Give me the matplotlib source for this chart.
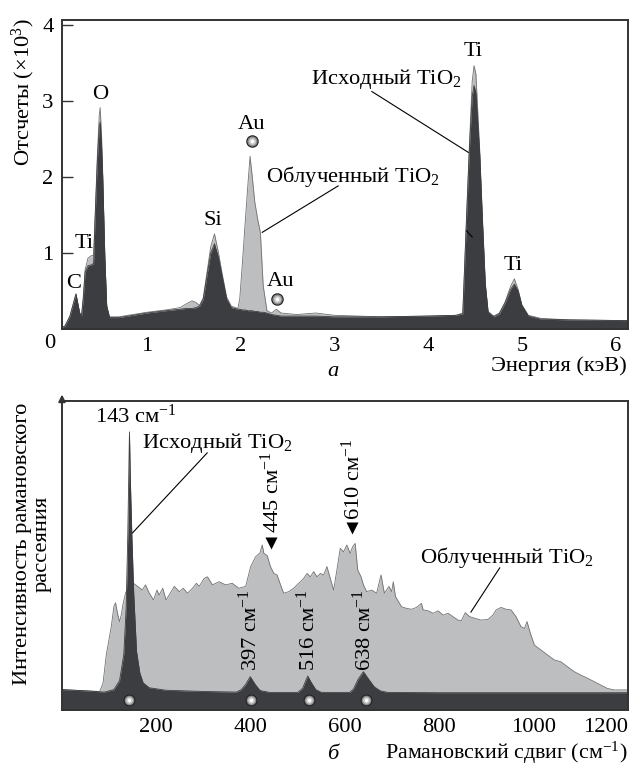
import matplotlib
matplotlib.use("Agg")
import matplotlib.pyplot as plt
import numpy as np

plt.rcParams['font.family'] = ['Liberation Serif', 'DejaVu Serif']
plt.rcParams['mathtext.fontset'] = 'custom'
plt.rcParams['mathtext.rm'] = 'Liberation Serif'
plt.rcParams['mathtext.it'] = 'Liberation Serif:italic'

# ---------------- EDX data (panel a) ----------------
edx_energy = [0.09, 0.125, 0.178, 0.242, 0.28, 0.30, 0.32, 0.34, 0.37, 0.40, 0.43,
              0.445, 0.47, 0.49, 0.50, 0.515, 0.527, 0.55, 0.57, 0.60, 0.70, 0.85,
              1.00, 1.20, 1.35, 1.42, 1.48, 1.52, 1.56, 1.60, 1.64, 1.68, 1.72, 1.76,
              1.80, 1.85, 1.90, 1.97, 1.99, 2.02, 2.05, 2.08, 2.10, 2.125, 2.15, 2.18,
              2.21, 2.24, 2.28, 2.33, 2.38, 2.43, 2.6, 2.8, 3.0, 3.5, 4.0, 4.3, 4.37,
              4.41, 4.44, 4.47, 4.49, 4.51, 4.55, 4.58, 4.61, 4.64, 4.70, 4.76, 4.82,
              4.88, 4.92, 4.96, 5.00, 5.07, 5.2, 5.5, 6.13]
edx_original = [0.02, 0.04, 0.17, 0.46, 0.22, 0.15, 0.40, 0.75, 0.83, 0.84, 0.86,
                1.40, 2.20, 2.65, 2.72, 2.40, 2.00, 0.94, 0.30, 0.15, 0.15, 0.18,
                0.21, 0.24, 0.26, 0.27, 0.27, 0.28, 0.30, 0.39, 0.70, 1.00, 1.12, 0.95,
                0.70, 0.39, 0.28, 0.26, 0.26, 0.25, 0.25, 0.24, 0.24, 0.24, 0.23, 0.23,
                0.22, 0.22, 0.21, 0.19, 0.18, 0.17, 0.17, 0.17, 0.16, 0.16, 0.17, 0.18, 0.20,
                1.45, 2.35, 3.05, 3.20, 3.10, 2.30, 1.40, 0.58, 0.22, 0.16, 0.20, 0.34,
                0.52, 0.59, 0.50, 0.31, 0.17, 0.13, 0.12, 0.11]
edx_irradiated = [0.02, 0.04, 0.17, 0.46, 0.22, 0.16, 0.42, 0.78, 0.93, 0.96, 0.97,
                  1.45, 2.27, 2.80, 2.91, 2.55, 2.06, 0.96, 0.31, 0.16, 0.16, 0.19,
                  0.22, 0.25, 0.28, 0.33, 0.37, 0.35, 0.31, 0.41, 0.74, 1.08, 1.25, 1.02,
                  0.74, 0.42, 0.30, 0.27, 0.40, 0.90, 1.44, 1.95, 2.27, 1.98, 1.67, 1.45,
                  1.27, 0.57, 0.24, 0.21, 0.26, 0.21, 0.19, 0.21, 0.18, 0.16, 0.17, 0.18, 0.21,
                  1.49, 2.40, 3.25, 3.46, 3.35, 2.36, 1.45, 0.61, 0.23, 0.17, 0.21, 0.35,
                  0.56, 0.66, 0.52, 0.32, 0.18, 0.14, 0.12, 0.11]
edx_ticks = [1, 2, 3, 4, 5, 6]
edx_yticks = [1, 2, 3, 4]
au_marker_e = [2.12, 2.39]
au_marker_y = [2.47, 0.39]

# ---------------- Raman data (panel b) ----------------
raman_shift_orig = [0, 50, 90, 110, 122, 131, 136, 139.5, 141.5, 143, 145, 148, 152, 158,
                    165, 172, 185, 220, 300, 370, 380, 389, 399, 410, 420, 440, 500, 510,
                    516, 521, 528, 538, 550, 610, 618, 628, 639, 650, 662, 675, 690, 800,
                    1000, 1200]
raman_orig = [0.066, 0.062, 0.058, 0.066, 0.095, 0.18, 0.33, 0.57, 0.76, 0.90, 0.74, 0.57,
              0.38, 0.19, 0.12, 0.088, 0.072, 0.064, 0.060, 0.058, 0.066, 0.082, 0.108, 0.082,
              0.063, 0.057, 0.057, 0.070, 0.092, 0.110, 0.090, 0.066, 0.057, 0.057, 0.068,
              0.100, 0.124, 0.100, 0.075, 0.062, 0.057, 0.056, 0.056, 0.056]
raman_shift_irr = [0, 80, 87, 94, 104.5, 110, 113.5, 118, 122, 126, 129, 135, 143, 151.5,
                   160.6, 170, 177, 185, 194, 201.4, 206, 213.6, 220.5, 229.6, 238, 248.6,
                   257, 266, 276.7, 285, 290.8, 301.4, 308.4, 319, 333, 347, 361, 375, 389.4,
                   400, 410.5, 419.6, 424.5, 428, 435, 442, 449, 456, 463.3, 470, 480.8, 491,
                   502, 512.5, 519.4, 526.6, 533.6, 540.6, 547.7, 554.7, 561.7, 568.8, 575.8,
                   582.8, 589.9, 596.9, 603.9, 611, 616, 621.6, 627, 634, 639, 646, 656.6,
                   667, 676.4, 683.4, 693.3, 699, 702.4, 707, 720, 730.5, 741, 751.6, 762,
                   765.7, 776, 786.8, 797.4, 808, 818.5, 829, 839.6, 846.6, 855, 864.3,
                   874.8, 888.8, 903, 913.5, 920.5, 931, 941.5, 952, 962.6, 973, 980.4,
                   985.9, 993, 1001.5, 1015.5, 1029.5, 1043.7, 1057.7, 1071.8, 1086, 1100,
                   1114, 1128, 1142, 1156, 1170, 1200]
raman_irr = [0.066, 0.060, 0.087, 0.18, 0.27, 0.335, 0.347, 0.31, 0.286, 0.31, 0.34, 0.38,
             0.40, 0.41, 0.40, 0.388, 0.405, 0.378, 0.356, 0.388, 0.372, 0.394, 0.356, 0.378,
             0.40, 0.383, 0.394, 0.378, 0.394, 0.41, 0.40, 0.426, 0.431, 0.405, 0.415, 0.405,
             0.41, 0.394, 0.40, 0.464, 0.496, 0.508, 0.534, 0.507, 0.50, 0.464, 0.442, 0.437,
             0.405, 0.378, 0.383, 0.394, 0.41, 0.426, 0.442, 0.431, 0.448, 0.431, 0.442,
             0.437, 0.464, 0.426, 0.388, 0.453, 0.523, 0.512, 0.534, 0.507, 0.528, 0.539,
             0.453, 0.431, 0.405, 0.383, 0.388, 0.378, 0.437, 0.378, 0.40, 0.383, 0.415,
             0.367, 0.334, 0.329, 0.326, 0.332, 0.345, 0.324, 0.321, 0.313, 0.321, 0.307,
             0.313, 0.302, 0.291, 0.289, 0.315, 0.302, 0.297, 0.291, 0.293, 0.307, 0.324,
             0.332, 0.326, 0.324, 0.302, 0.27, 0.264, 0.286, 0.248, 0.21, 0.194, 0.178,
             0.162, 0.156, 0.14, 0.124, 0.113, 0.103, 0.092, 0.081, 0.070, 0.065, 0.065]
raman_major_ticks = [200, 400, 600, 800, 1000, 1200]
raman_minor_ticks = [100, 300, 500, 700, 900, 1100]
anatase_marker_shift = [143, 400, 524, 645]
anatase_labels = ['397', '516', '638']
anatase_label_shift = [400, 523, 640]
rutile_shift = [443, 614]
rutile_y = [0.54, 0.589]

DARK = '#3b3d40'
LIGHT = '#bdbec0'
LIGHT_EDGE = '#707070'
SPINE = '#333333'
FS = 16.2

fig = plt.figure(figsize=(6.38, 7.65), dpi=100)
W, H = 638, 765


def px_axes(l, t, r, b):
    return fig.add_axes([l / W, 1 - b / H, (r - l) / W, (b - t) / H])


def sphere(ax, xs, ys, d=8.5):
    ax.scatter(xs, ys, s=d ** 2, c='#1e1e1e', zorder=10, linewidths=0, clip_on=False)
    ax.scatter(xs, ys, s=(0.82 * d) ** 2, c='#8c8c8c', zorder=11, linewidths=0, clip_on=False)
    ax.scatter(xs, ys, s=(0.58 * d) ** 2, c='#c8c8c8', zorder=12, linewidths=0, clip_on=False)
    ax.scatter(xs, ys, s=(0.3 * d) ** 2, c='#ffffff', zorder=13, linewidths=0, clip_on=False)


def style_spines(ax):
    for sp in ax.spines.values():
        sp.set_color(SPINE)
        sp.set_linewidth(1.4)
        sp.set_zorder(20)


# ---------------- Panel a ----------------
ax1 = px_axes(62, 20, 628, 329)
ax1.fill_between(edx_energy, 0, edx_irradiated, color=LIGHT, lw=0, zorder=2)
ax1.plot(edx_energy, edx_irradiated, color=LIGHT_EDGE, lw=0.6, zorder=3)
ax1.fill_between(edx_energy, 0, edx_original, color=DARK, lw=0, zorder=4)
ax1.plot(edx_energy, edx_original, color=DARK, lw=0.6, zorder=5)
ax1.set_xlim(0.093, 6.133)
ax1.set_ylim(0, 4.06)
ax1.set_xticks(edx_ticks)
ax1.set_yticks(edx_yticks)
ax1.tick_params(axis='x', direction='in', length=6, width=1.5, color='white', pad=6,
                labelsize=FS)
ax1.tick_params(axis='y', direction='in', length=8, width=1.0, color=SPINE, pad=6,
                labelsize=FS)
style_spines(ax1)
ax1.text(0.093 - 0.13, -0.19, '0', fontsize=FS, ha='center', va='center', clip_on=False)

sphere(ax1, au_marker_e, au_marker_y, d=9)
tk = dict(fontsize=FS, ha='center', va='center', zorder=15)
ax1.text(0.50, 3.08, 'O', **tk)
ax1.text(0.33, 1.12, 'Ti', **tk)
ax1.text(0.22, 0.60, 'C', **tk)
ax1.text(1.70, 1.43, 'Si', **tk)
ax1.text(2.12, 2.69, 'Au', **tk)
ax1.text(2.43, 0.62, 'Au', **tk)
ax1.text(4.48, 3.65, 'Ti', **tk)
ax1.text(4.91, 0.83, 'Ti', **tk)
ax1.text(3.55, 3.215, 'Исходный TiO$_2$', fontsize=FS, ha='center', va='baseline', zorder=15)
ax1.text(3.20, 1.93, 'Облученный TiO$_2$', fontsize=FS, ha='center', va='baseline', zorder=15)
ax1.plot([3.40, 4.43], [3.12, 2.32], color='black', lw=0.8, zorder=15)
ax1.plot([4.41, 4.47], [1.29, 1.21], color='black', lw=0.8, zorder=15)
ax1.plot([2.23, 3.04], [1.27, 1.88], color='black', lw=0.8, zorder=15)

fig.text(23 / W, 1 - 92 / H, 'Отсчеты (×10$^3$)', rotation=90, ha='center', va='center',
         fontsize=FS)
fig.text(627 / W, 1 - 371 / H, 'Энергия (кэВ)', ha='right', va='baseline', fontsize=FS)
fig.text(333 / W, 1 - 376 / H, 'а', ha='center', va='baseline', fontsize=FS, style='italic')

# ---------------- Panel b ----------------
ax2 = px_axes(62, 401, 628, 710)
ax2.fill_between(raman_shift_irr, 0, raman_irr, color=LIGHT, lw=0, zorder=2)
ax2.plot(raman_shift_irr, raman_irr, color=LIGHT_EDGE, lw=0.6, zorder=3)
ax2.fill_between(raman_shift_orig, 0, raman_orig, color=DARK, lw=0, zorder=4)
ax2.plot(raman_shift_orig, raman_orig, color=DARK, lw=0.6, zorder=5)
ax2.set_xlim(0, 1200)
ax2.set_ylim(0, 1)
ax2.set_yticks([])
ax2.set_xticks(raman_major_ticks)
ax2.set_xticks(raman_minor_ticks, minor=True)
ax2.tick_params(axis='x', which='major', direction='in', length=6, width=1.5, color='white',
                pad=6, labelsize=FS)
ax2.tick_params(axis='x', which='minor', direction='in', length=8, width=1.0, color='#111111')
style_spines(ax2)
# the last tick label sits inside the right edge of the frame
ax2.get_xticklabels()[-1].set_horizontalalignment('right')
ax2.annotate('', xy=(0, 1.03), xytext=(0, 0.98), xycoords='axes fraction',
             arrowprops=dict(arrowstyle='-|>', color=SPINE, lw=1.4, mutation_scale=10),
             zorder=25, annotation_clip=False)

sphere(ax2, anatase_marker_shift, [0.032] * len(anatase_marker_shift), d=8.5)
ax2.scatter(rutile_shift, rutile_y, marker='v', s=75, c='black', zorder=15, linewidths=0)

ax2.text(157, 0.928, '143 см$^{-1}$', fontsize=FS, ha='center', va='baseline', zorder=15)
ax2.text(329, 0.848, 'Исходный TiO$_2$', fontsize=FS, ha='center', va='baseline', zorder=15)
ax2.text(943, 0.476, 'Облученный TiO$_2$', fontsize=FS, ha='center', va='baseline', zorder=15)
ax2.plot([149.4, 307.8], [0.573, 0.832], color='black', lw=0.8, zorder=15)
ax2.plot([867, 928], [0.317, 0.46], color='black', lw=0.8, zorder=15)

for s, lab in zip(anatase_label_shift, anatase_labels):
    ax2.text(s, 0.125, lab + ' см$^{-1}$', rotation=90, fontsize=FS, ha='center',
             va='bottom', zorder=15)
ax2.text(445, 0.573, '445 см$^{-1}$', rotation=90, fontsize=FS, ha='center', va='bottom',
         zorder=15)
ax2.text(618, 0.615, '610 см$^{-1}$', rotation=90, fontsize=FS, ha='center', va='bottom',
         zorder=15)

fig.text(32.5 / W, 1 - 544 / H, 'Интенсивность рамановского\nрассеяния', rotation=90,
         ha='center', va='center', fontsize=FS, linespacing=1.05, multialignment='center')
fig.text(627 / W, 1 - 759 / H, 'Рамановский сдвиг (см$^{-1}$)', ha='right', va='baseline',
         fontsize=15.8)
fig.text(333 / W, 1 - 759 / H, 'б', ha='center', va='baseline', fontsize=FS, style='italic')

fig.savefig('out.png', dpi=100)
